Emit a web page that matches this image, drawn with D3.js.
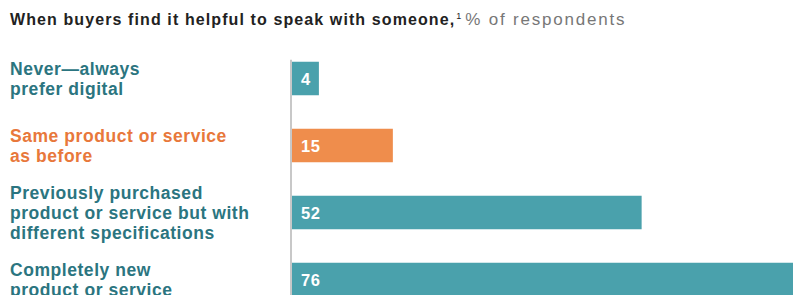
<!DOCTYPE html>
<html>
<head>
<meta charset="utf-8">
<script src="https://cdn.jsdelivr.net/npm/d3@7"></script>
<style>
  body { margin: 0; background: #fff; }
  svg { display: block; font-family: "Liberation Sans", Arial, sans-serif; }
</style>
</head>
<body>
<div id="chart"></div>
<script>
const categories = [
  ["Never\u2014always", "prefer digital"],
  ["Same product or service", "as before"],
  ["Previously purchased", "product or service but with", "different specifications"],
  ["Completely new", "product or service"]
];
const values = [4, 15, 52, 76];
const highlight = [false, true, false, false];

const width = 793, height = 295;
const teal = "#4aa1ac", orange = "#ef8d4c";
const tealText = "#2b7580", orangeText = "#e8783b";

const svg = d3.select("#chart").append("svg")
  .attr("width", width)
  .attr("height", height);

// title
const title = svg.append("text")
  .attr("x", 10)
  .attr("y", 25)
  .attr("font-size", 16)
  .attr("fill", "#222");
title.append("tspan").attr("font-weight", "bold")
  .attr("letter-spacing", 1.1)
  .text("When buyers find it helpful to speak with someone,");
title.append("tspan").attr("font-size", 9).attr("dy", -6).attr("dx", 1).text("1");
title.append("tspan").attr("fill", "#777").attr("dy", 6).attr("dx", 4)
  .attr("font-size", 17)
  .attr("letter-spacing", 1.8)
  .text("% of respondents");

/* scales */
const xScale = d3.scaleLinear()
  .domain([0, 76])
  .range([292, 803]);

const yScale = d3.scaleBand()
  .domain(d3.range(values.length))
  .range([45, 313])
  .paddingInner(0.5)
  .paddingOuter(0.25);

// axis line
svg.append("line")
  .attr("x1", xScale(0) - 1).attr("x2", xScale(0) - 1)
  .attr("y1", yScale(0) - 2).attr("y2", height)
  .attr("stroke", "#c8c8c8")
  .attr("stroke-width", 2);

const rows = svg.selectAll(".row")
  .data(values).enter()
  .append("g")
  .attr("class", "row");

rows.append("rect")
  .attr("x", xScale(0))
  .attr("y", (d, i) => yScale(i))
  .attr("width", d => xScale(d) - xScale(0))
  .attr("height", yScale.bandwidth())
  .attr("fill", (d, i) => highlight[i] ? orange : teal);

rows.append("text")
  .attr("x", xScale(0) + 9)
  .attr("y", (d, i) => yScale(i) + yScale.bandwidth() / 2 + 6)
  .attr("font-size", 16.5)
  .attr("font-weight", "bold")
  .attr("letter-spacing", 0.5)
  .attr("fill", "#fff")
  .text(d => d);

// category labels
const lineH = 20;
rows.append("text")
  .attr("font-size", 17.5)
  .attr("font-weight", "bold")
  .attr("letter-spacing", 0.55)
  .attr("fill", (d, i) => highlight[i] ? orangeText : tealText)
  .each(function(d, i) {
    const lines = categories[i];
    const mid = yScale(i) + yScale.bandwidth() / 2;
    const first = mid - (lines.length - 1) * lineH / 2 + 6;
    d3.select(this).selectAll("tspan")
      .data(lines).enter()
      .append("tspan")
      .attr("x", 10)
      .attr("y", (l, k) => first + k * lineH)
      .text(l => l);
  });
</script>
</body>
</html>
